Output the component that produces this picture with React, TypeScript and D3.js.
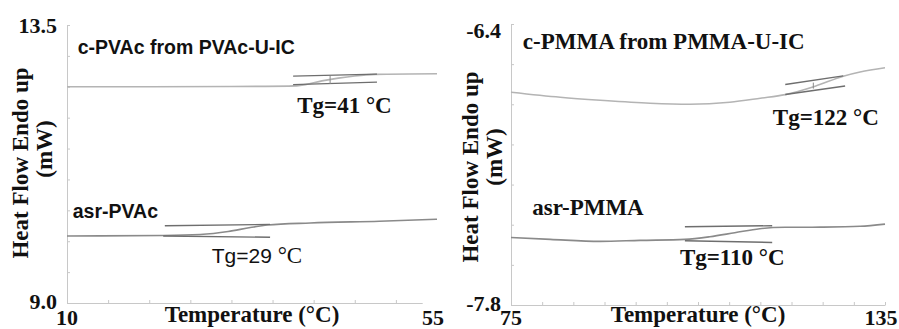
import * as d3 from 'd3';
import { useEffect, useRef } from 'react';

// PVAc panel (left)
const cPvacTemp = [10, 20, 30, 37, 39, 41, 43, 45, 47.5, 55];
const cPvacHeat = [12.5, 12.5, 12.505, 12.51, 12.535, 12.595, 12.64, 12.675, 12.7, 12.71];
const asrPvacTemp = [10, 21.7, 26.2, 29.6, 32.3, 34.4, 39.6, 48, 55];
const asrPvacHeat = [10.085, 10.093, 10.109, 10.157, 10.222, 10.263, 10.295, 10.324, 10.355];

// PMMA panel (right)
const cPmmaTemp = [75, 82.9, 89.3, 97.3, 103.7, 110.1, 115, 119, 123.8, 128.3, 131, 135];
const cPmmaHeat = [-6.74, -6.765, -6.78, -6.795, -6.8, -6.79, -6.77, -6.752, -6.71, -6.66, -6.639, -6.618];
const asrPmmaTemp = [75, 81.3, 89.3, 95.7, 102.9, 106.9, 110.9, 114.9, 119, 124.6, 131, 135];
const asrPmmaHeat = [-7.464, -7.473, -7.483, -7.478, -7.473, -7.46, -7.44, -7.42, -7.413, -7.412, -7.408, -7.397];

// tangent construction lines: [t0, v0, t1, v1]
const pvacTangents = [
  [37.5, 12.672, 47.7, 12.704],
  [37.5, 12.535, 47.7, 12.575],
  [21.9, 10.25, 34.7, 10.272],
  [21.7, 10.085, 34.7, 10.064],
];
const pmmaTangents = [
  [119, -6.7015, 128.3, -6.6585],
  [119, -6.7515, 128.6, -6.709],
  [102.9, -7.41, 116.9, -7.405],
  [102.9, -7.48, 116.9, -7.4885],
];
// small Tg marks: [t, v0, v1]
const pvacMarks = [[42.0, 12.545, 12.675]];
const pmmaMarks = [[123.5, -6.722, -6.692]];

// labels: [text, t, v, font]
const pvacLabels = [
  ['c-PVAc from PVAc-U-IC', 11.3, 13.03, 'sans'],
  ['Tg=41 °C', 38, 12.08, 'serif'],
  ['asr-PVAc', 10.7, 10.38, 'sans'],
  ['Tg=29 °C', 27.6, 9.65, 'mixed'],
];
const pmmaLabels = [
  ['c-PMMA from PMMA-U-IC', 76.9, -6.526, 'serif'],
  ['Tg=122 °C', 117, -6.903, 'serif'],
  ['asr-PMMA', 78.4, -7.352, 'serif'],
  ['Tg=110 °C', 102.1, -7.601, 'serif'],
];

const pvacYTicks = d3.range(9, 13.51, 0.5);
const pmmaYTicks = d3.range(-7.8, -6.39, 0.2);
const pvacXTicks = d3.range(10, 53, 5);
const pmmaXTicks = d3.range(75, 136, 5);

const SERIF = 'Liberation Serif';
const SANS = 'Liberation Sans';

const panels = [
  {
    xDomain: [10, 55], xRange: [67, 437], axisEnd: 53.2,
    yDomain: [9, 13.5], yRange: [303, 25],
    yTicks: pvacYTicks, xTicks: pvacXTicks,
    yLabels: ['13.5', '9.0'], xLabels: ['10', '55'],
    curves: [
      { t: cPvacTemp, v: cPvacHeat, color: '#b4b4b4' },
      { t: asrPvacTemp, v: asrPvacHeat, color: '#8a8a8a' },
    ],
    tangents: pvacTangents, marks: pvacMarks, labels: pvacLabels,
    yLabelPos: [[28, 163], [52, 149]], topBase: 33,
  },
  {
    xDomain: [75, 135], xRange: [511, 885], axisEnd: 135,
    yDomain: [-7.8, -6.4], yRange: [305, 24],
    yTicks: pmmaYTicks, xTicks: pmmaXTicks,
    yLabels: ['-6.4', '-7.8'], xLabels: ['75', '135'],
    curves: [
      { t: cPmmaTemp, v: cPmmaHeat, color: '#b4b4b4' },
      { t: asrPmmaTemp, v: asrPmmaHeat, color: '#8a8a8a' },
    ],
    tangents: pmmaTangents, marks: pmmaMarks, labels: pmmaLabels,
    yLabelPos: [[478, 167], [502, 157]], topBase: 38,
  },
];

function App() {
  const svgRef = useRef<SVGSVGElement>(null);

  useEffect(() => {
    const svg = d3.select(svgRef.current);
    svg.selectAll('*').remove();

    const serifText = (g, size) =>
      g.append('text').attr('font-family', SERIF).attr('font-weight', 'bold')
        .attr('font-size', size).attr('fill', '#111');

    panels.forEach(p => {
      const x = d3.scaleLinear().domain(p.xDomain).range(p.xRange);
      const y = d3.scaleLinear().domain(p.yDomain).range(p.yRange);
      const x0 = p.xRange[0];
      const yBottom = p.yRange[0];
      const g = svg.append('g');

      // y axis, ticks pointing inward
      const yAx = g.append('g')
        .attr('transform', `translate(${x0},0)`)
        .call(d3.axisRight(y).tickValues(p.yTicks).tickSize(3).tickSizeOuter(0).tickFormat(() => ''));
      yAx.select('.domain').attr('stroke', '#c8c8c8');
      yAx.selectAll('.tick line').attr('stroke', '#c8c8c8');

      // x axis
      const xAxScale = d3.scaleLinear().domain([p.xDomain[0], p.axisEnd]).range([x0, x(p.axisEnd)]);
      const xAx = g.append('g')
        .attr('transform', `translate(0,${yBottom})`)
        .call(d3.axisTop(xAxScale).tickValues(p.xTicks).tickSize(3).tickSizeOuter(0).tickFormat(() => ''));
      xAx.select('.domain').attr('stroke', '#c8c8c8');
      xAx.selectAll('.tick line').attr('stroke', '#c8c8c8');

      // tick labels at the ends
      serifText(g, 22).attr('x', x0 - 10).attr('y', p.topBase).attr('text-anchor', 'end').text(p.yLabels[0]);
      serifText(g, 22).attr('x', x0 - 10).attr('y', yBottom + 6).attr('text-anchor', 'end').text(p.yLabels[1]);
      serifText(g, 22).attr('x', x0).attr('y', 325).attr('text-anchor', 'middle').text(p.xLabels[0]);
      serifText(g, 22).attr('x', p.xRange[1] - 4).attr('y', 325).attr('text-anchor', 'middle').text(p.xLabels[1]);

      // axis titles
      serifText(g, 23).attr('x', (x0 + p.xRange[1]) / 2).attr('y', 322)
        .attr('text-anchor', 'middle').text('Temperature (°C)');
      serifText(g, 23)
        .attr('transform', `translate(${p.yLabelPos[0][0]},${p.yLabelPos[0][1]}) rotate(-90)`)
        .attr('text-anchor', 'middle').text('Heat Flow Endo up');
      serifText(g, 23)
        .attr('transform', `translate(${p.yLabelPos[1][0]},${p.yLabelPos[1][1]}) rotate(-90)`)
        .attr('text-anchor', 'middle').text('(mW)');

      // curves
      const line = d3.line<number[]>()
        .x(d => x(d[0]))
        .y(d => y(d[1]))
        .curve(d3.curveMonotoneX);
      p.curves.forEach(c => {
        g.append('path')
          .datum(c.t.map((t, i) => [t, c.v[i]]))
          .attr('fill', 'none')
          .attr('stroke', c.color)
          .attr('stroke-width', 1.6)
          .attr('d', line);
      });

      // tangent lines
      g.selectAll('.tan').data(p.tangents).enter().append('line')
        .attr('x1', d => x(d[0])).attr('y1', d => y(d[1]))
        .attr('x2', d => x(d[2])).attr('y2', d => y(d[3]))
        .attr('stroke', '#6e6e6e').attr('stroke-width', 1.4);
      g.selectAll('.mark').data(p.marks).enter().append('line')
        .attr('x1', d => x(d[0])).attr('y1', d => y(d[1]))
        .attr('x2', d => x(d[0])).attr('y2', d => y(d[2]))
        .attr('stroke', '#8a8a8a').attr('stroke-width', 1);

      // labels
      p.labels.forEach(([txt, t, v, font]) => {
        if (font === 'serif') {
          serifText(g, 23).attr('x', x(t)).attr('y', y(v)).text(txt);
          return;
        }
        const el = g.append('text').attr('x', x(t)).attr('y', y(v)).attr('fill', '#111');
        if (font === 'sans') {
          el.attr('font-family', SANS).attr('font-weight', 'bold').attr('font-size', 19.5).text(txt);
        } else {
          const parts = txt.split(' ');
          el.append('tspan').attr('font-family', SANS).attr('font-size', 21).text(parts[0] + ' ');
          el.append('tspan').attr('font-family', SERIF).attr('font-size', 23).text(parts[1]);
        }
      });
    });
  }, []);

  return (
    <svg
      ref={svgRef}
      width={899}
      height={329}
      style={{ position: 'absolute', left: 0, top: 0, background: '#fff', display: 'block' }}
    />
  );
}

export default App;
